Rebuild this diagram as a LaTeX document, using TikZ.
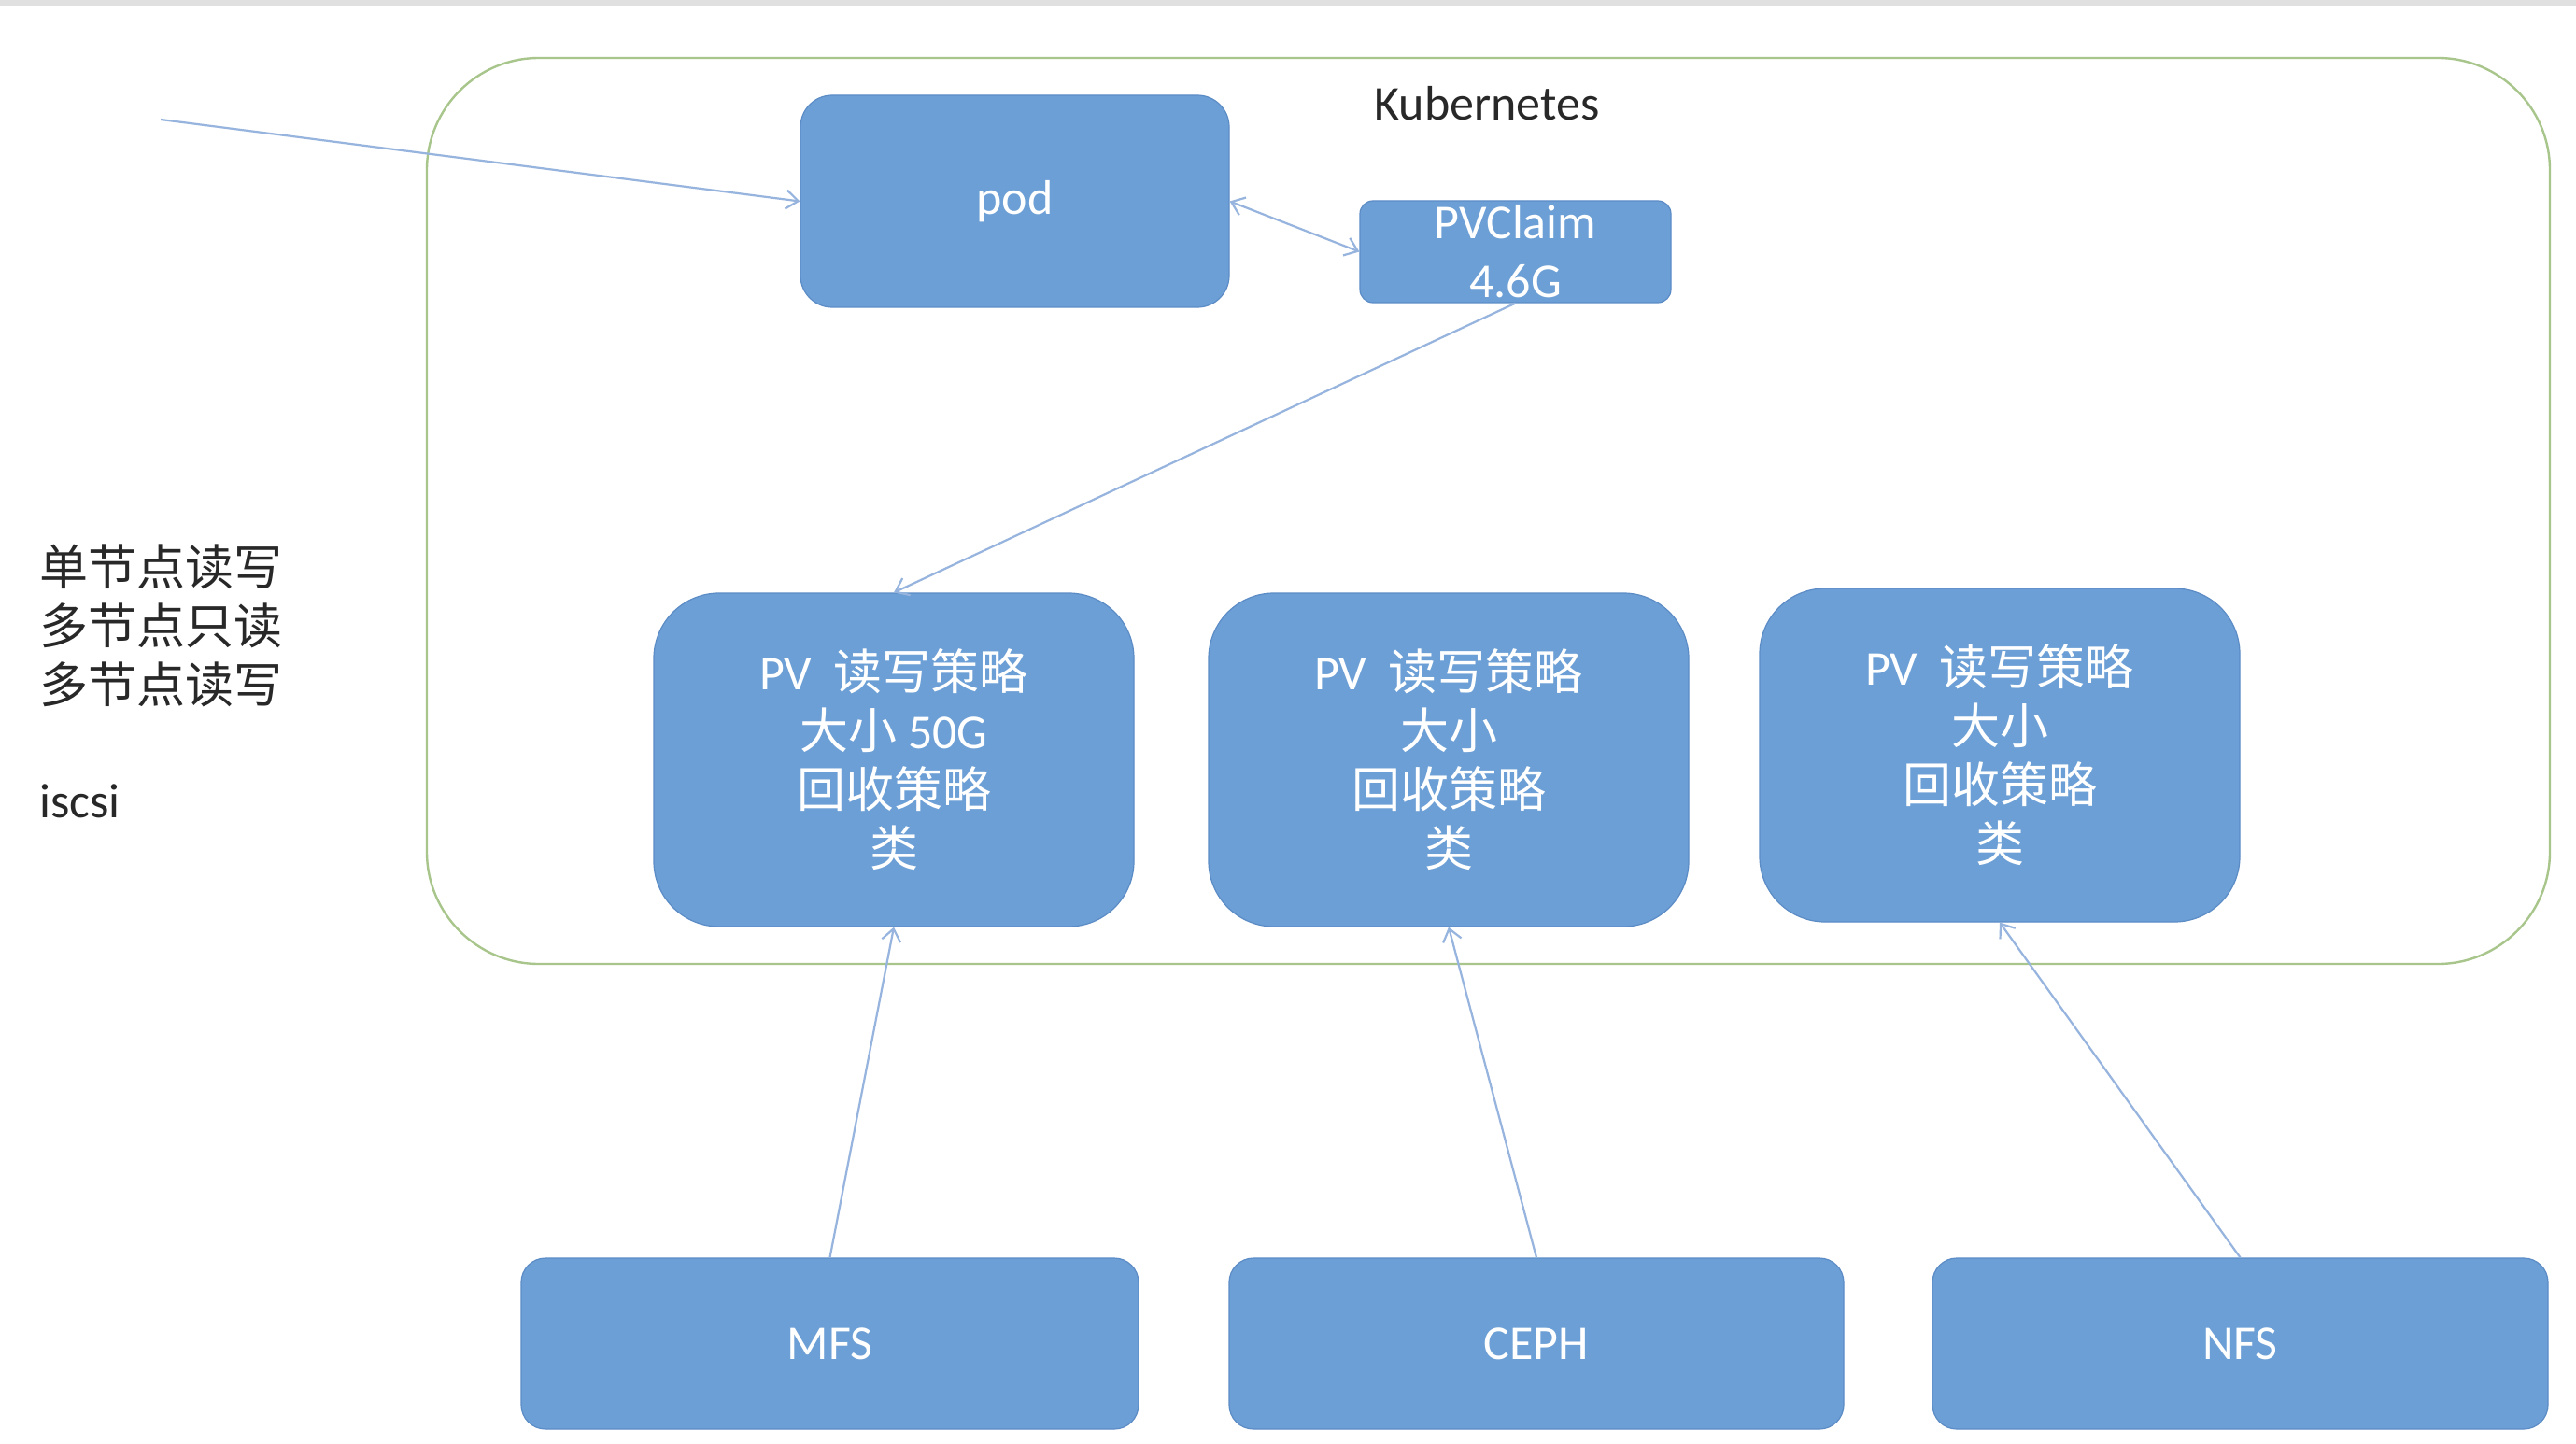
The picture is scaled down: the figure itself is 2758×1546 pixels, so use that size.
\documentclass[tikz,border=0pt]{standalone}
\usepackage{fontspec}
\setmainfont{Carlito}
\newfontfamily\cjk{Noto Sans CJK SC}
\usetikzlibrary{arrows.meta}
\definecolor{boxblue}{RGB}{108,159,213}
\definecolor{boxedge}{RGB}{92,140,198}
\definecolor{arrowblue}{RGB}{150,180,222}
\definecolor{kgreen}{RGB}{168,198,140}
\definecolor{txtgray}{RGB}{40,40,40}
\newcommand{\zh}[1]{{\cjk #1}}
\begin{document}
\begin{tikzpicture}[x=0.5pt,y=-0.5pt,
  txt/.style={font=\fontsize{26}{31.5}\selectfont, inner sep=0pt},
  box/.style={txt, draw=boxedge, line width=0.6pt, fill=boxblue, text=white, align=center},
  conn/.style={draw=arrowblue, line width=1.1pt, -{Straight Barb[length=6.5pt,width=10pt]}},
  biconn/.style={draw=arrowblue, line width=1.1pt, {Straight Barb[length=6.5pt,width=10pt]}-{Straight Barb[length=6.5pt,width=10pt]}}]
\useasboundingbox (0,0) rectangle (2758,1546);
\fill[white] (0,0) rectangle (2758,1546);
\fill[black!12] (0,0) rectangle (2758,6);
% Kubernetes container
\node[draw=kgreen, line width=1.2pt, rounded corners=60pt, minimum width=1136.5pt, minimum height=485pt, inner sep=0pt] (k8s) at (1593.5,547) {};
\node[txt, text=txtgray] (klabel) at (1592,111) {Kubernetes};
% pod and claim
\node[box, rounded corners=17pt, minimum width=229.5pt, minimum height=113.5pt] (pod) at (1086.5,215.5) {pod};
\node[box, rounded corners=7pt, minimum width=166.5pt, minimum height=54.5pt] (pvc) at (1622.5,269.5) {PVClaim\\4.6G};
% PVs
\node[box, rounded corners=35pt, minimum width=257pt, minimum height=178.5pt] (pv1) at (957,813.5) {PV~ \zh{读写策略}\\\zh{大小} 50G\\\zh{回收策略}\\\zh{类}};
\node[box, rounded corners=35pt, minimum width=257pt, minimum height=178.5pt] (pv2) at (1551,813.5) {PV~ \zh{读写策略}\\\zh{大小}\\\zh{回收策略}\\\zh{类}};
\node[box, rounded corners=35pt, minimum width=257pt, minimum height=178.5pt] (pv3) at (2141,808.5) {PV~ \zh{读写策略}\\\zh{大小}\\\zh{回收策略}\\\zh{类}};
% storage backends
\node[box, rounded corners=13pt, minimum width=330.5pt, minimum height=91.5pt] (mfs) at (888.5,1438.5) {MFS};
\node[box, rounded corners=13pt, minimum width=329pt, minimum height=91.5pt] (ceph) at (1645,1438.5) {CEPH};
\node[box, rounded corners=13pt, minimum width=329.5pt, minimum height=91.5pt] (nfs) at (2398.5,1438.5) {NFS};
% left notes
\node[txt, text=txtgray, anchor=west, align=left] (modes) at (42,670) {\zh{单节点读写}\\\zh{多节点只读}\\\zh{多节点读写}};
\node[txt, text=txtgray, anchor=west] (iscsi) at (42,858) {iscsi};
% connectors
\coordinate (ext) at (172,128);
\draw[conn] (ext) -- (pod.west);
\draw[biconn] (pod.east) -- (pvc.west);
\draw[conn] (pvc.south) -- (pv1.north);
\draw[conn] (mfs.north) -- (pv1.south);
\draw[conn] (ceph.north) -- (pv2.south);
\draw[conn] (nfs.north) -- (pv3.south);
\end{tikzpicture}
\end{document}
